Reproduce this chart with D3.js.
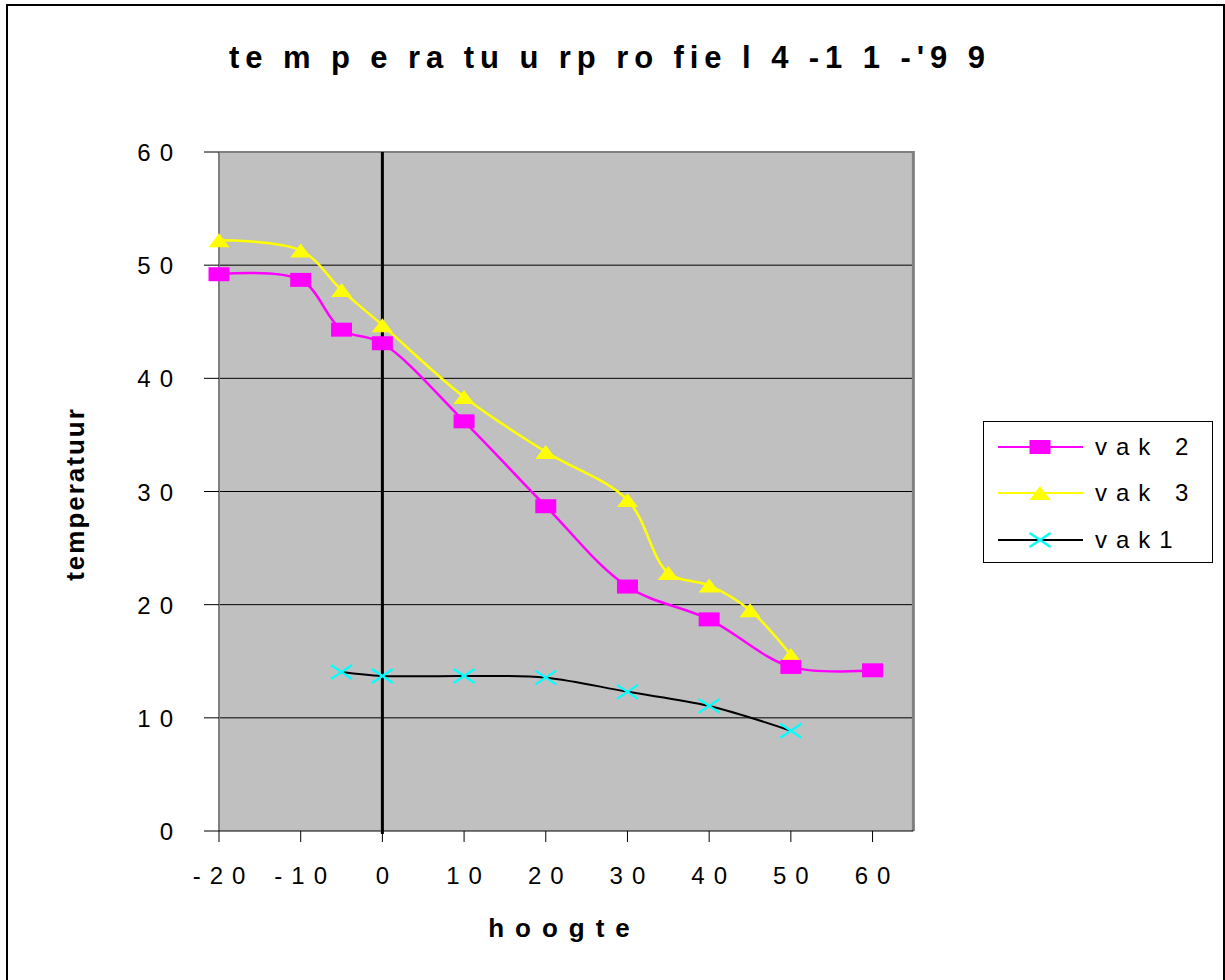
<!DOCTYPE html>
<html><head><meta charset="utf-8">
<script src="https://cdn.jsdelivr.net/npm/d3@7"></script>
<style>body{margin:0;background:#fff}svg{display:block}text{font-family:"Liberation Sans",Arial,sans-serif}</style>
</head><body>
<script>
const titleText = "te m p e ra tu u rp ro fie l 4 -1 1 -'9 9";
const xTitle = "hoogte";
const yTitle = "temperatuur";
const xTicks = [-20, -10, 0, 10, 20, 30, 40, 50, 60];
const yTicks = [0, 10, 20, 30, 40, 50, 60];

const vak2X = [-20, -10, -5, 0, 10, 20, 30, 40, 50, 60];
const vak2Y = [49.2, 48.7, 44.3, 43.1, 36.2, 28.7, 21.6, 18.7, 14.5, 14.2];
const vak3X = [-20, -10, -5, 0, 10, 20, 30, 35, 40, 45, 50];
const vak3Y = [52.2, 51.3, 47.8, 44.7, 38.35, 33.5, 29.25, 22.8, 21.7, 19.5, 15.55];
const vak1X = [-5, 0, 10, 20, 30, 40, 50];
const vak1Y = [14.05, 13.7, 13.7, 13.55, 12.3, 11.05, 8.86];

const seriesNames = ["vak 2", "vak 3", "vak1"];

const W = 1225, H = 980;
const svg = d3.select("body").append("svg").attr("width", W).attr("height", H);

const x = d3.scaleLinear().domain([-20, 65]).range([219, 913.4]);
const y = d3.scaleLinear().domain([0, 60]).range([831, 152]);

// outer border
svg.append("rect").attr("x", 7).attr("y", 5).attr("width", 1217).attr("height", 985)
  .attr("fill", "none").attr("stroke", "#000").attr("stroke-width", 2);

// plot background
const [x0, x1] = x.range();
const [yb, yt] = y.range();
svg.append("rect").attr("x", x0).attr("y", yt).attr("width", x1 - x0).attr("height", yb - yt)
  .attr("fill", "#c0c0c0");

// gridlines
svg.append("g").selectAll("line").data(yTicks.filter(d => d > 0 && d < 60)).join("line")
  .attr("x1", x0).attr("x2", x1).attr("y1", d => y(d)).attr("y2", d => y(d))
  .attr("stroke", "#000").attr("stroke-width", 1);

// plot border (gray)
svg.append("line").attr("x1", x0).attr("x2", x1).attr("y1", yt).attr("y2", yt).attr("stroke", "#808080").attr("stroke-width", 2);
svg.append("line").attr("x1", x1).attr("x2", x1).attr("y1", yt - 1).attr("y2", yb).attr("stroke", "#808080").attr("stroke-width", 3);
svg.append("line").attr("x1", x0).attr("x2", x0).attr("y1", yt).attr("y2", yb).attr("stroke", "#808080").attr("stroke-width", 2);

// y tick marks
svg.append("g").selectAll("line").data(yTicks).join("line")
  .attr("x1", 204).attr("x2", x0).attr("y1", d => y(d)).attr("y2", d => y(d))
  .attr("stroke", "#000").attr("stroke-width", 1);

// x axis line + ticks
svg.append("line").attr("x1", x0).attr("x2", x1).attr("y1", yb).attr("y2", yb).attr("stroke", "#000").attr("stroke-width", 1.2);
svg.append("g").selectAll("line").data(xTicks).join("line")
  .attr("x1", d => x(d)).attr("x2", d => x(d)).attr("y1", yb).attr("y2", yb + 11)
  .attr("stroke", "#000").attr("stroke-width", 1);

// zero vertical axis
svg.append("line").attr("x1", x(0)).attr("x2", x(0)).attr("y1", yt).attr("y2", yb + 3)
  .attr("stroke", "#000").attr("stroke-width", 3);

const ls = 9;
// x tick labels
svg.append("g").selectAll("text").data(xTicks).join("text")
  .attr("x", d => x(d) + ls / 2).attr("y", 884).attr("text-anchor", "middle")
  .attr("font-size", 24).attr("letter-spacing", ls).text(d => d);
// y tick labels
svg.append("g").selectAll("text").data(yTicks).join("text")
  .attr("x", 173 + ls).attr("y", d => y(d) + 9).attr("text-anchor", "end")
  .attr("font-size", 24).attr("letter-spacing", ls).text(d => d);

// title, fitted to the reference width
const tt = svg.append("text").attr("x", 229).attr("y", 68)
  .attr("font-size", 31).attr("font-weight", "bold").text(titleText);
const tLen = tt.node().getComputedTextLength();
const tLs = Math.max(0, (756 - tLen) / (titleText.length - 1));
tt.attr("letter-spacing", tLs);

svg.append("text").attr("x", 559 + 5.5).attr("y", 937).attr("text-anchor", "middle")
  .attr("font-size", 26).attr("font-weight", "bold").attr("letter-spacing", 11).text(xTitle);
svg.append("text").attr("transform", "translate(84,494) rotate(-90)").attr("text-anchor", "middle")
  .attr("font-size", 26).attr("font-weight", "bold").attr("letter-spacing", 2).text(yTitle);

const curve = d3.curveCatmullRom.alpha(0.5);
const line = d3.line().x(d => x(d[0])).y(d => y(d[1])).curve(curve);

const s1 = vak1X.map((v, i) => [v, vak1Y[i]]);
const s2 = vak2X.map((v, i) => [v, vak2Y[i]]);
const s3 = vak3X.map((v, i) => [v, vak3Y[i]]);

const MW = 21, MH = 14;
function drawSquare(g, px, py) {
  g.append("rect").attr("x", px - MW / 2).attr("y", py - MH / 2).attr("width", MW).attr("height", MH).attr("fill", "#ff00ff");
}
function drawTri(g, px, py) {
  g.append("path").attr("d", `M${px - MW / 2},${py + MH / 2}L${px + MW / 2},${py + MH / 2}L${px},${py - MH / 2}Z`).attr("fill", "#ffff00");
}
function drawX(g, px, py) {
  g.append("path").attr("d", `M${px - MW / 2},${py - MH / 2}L${px + MW / 2},${py + MH / 2}M${px - MW / 2},${py + MH / 2}L${px + MW / 2},${py - MH / 2}`)
    .attr("stroke", "#00ffff").attr("stroke-width", 2.2).attr("fill", "none");
}

// vak1
const g1 = svg.append("g");
g1.append("path").attr("d", line(s1)).attr("fill", "none").attr("stroke", "#000").attr("stroke-width", 2);
s1.forEach(d => drawX(g1, x(d[0]), y(d[1])));
// vak3
const g3 = svg.append("g");
g3.append("path").attr("d", line(s3)).attr("fill", "none").attr("stroke", "#ffff00").attr("stroke-width", 2.5);
s3.forEach(d => drawTri(g3, x(d[0]), y(d[1])));
// vak2
const g2 = svg.append("g");
g2.append("path").attr("d", line(s2)).attr("fill", "none").attr("stroke", "#ff00ff").attr("stroke-width", 2.5);
s2.forEach(d => drawSquare(g2, x(d[0]), y(d[1])));

// legend
const lg = svg.append("g");
lg.append("rect").attr("x", 983.5).attr("y", 421.5).attr("width", 229).attr("height", 141)
  .attr("fill", "#fff").attr("stroke", "#000").attr("stroke-width", 1);
const legY = [447, 493, 540];
const legColors = ["#ff00ff", "#ffff00", "#000"];
const legMarkers = [drawSquare, drawTri, drawX];
seriesNames.forEach((n, i) => {
  lg.append("line").attr("x1", 998).attr("x2", 1083).attr("y1", legY[i]).attr("y2", legY[i])
    .attr("stroke", legColors[i]).attr("stroke-width", 2);
  legMarkers[i](lg, 1040, legY[i]);
  lg.append("text").attr("x", 1095).attr("y", legY[i] + 8).attr("font-size", 24)
    .attr("letter-spacing", ls).text(n);
});
</script>
</body></html>
